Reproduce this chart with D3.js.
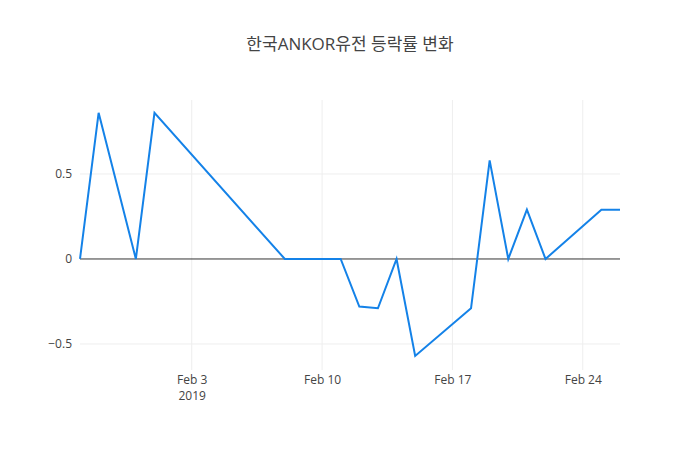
<!DOCTYPE html>
<html>
<head>
<meta charset="utf-8">
<script src="https://cdn.jsdelivr.net/npm/d3@7"></script>
<style>
  body { margin: 0; background: #fff; }
  text { font-family: "Open Sans", "Noto Sans CJK KR", sans-serif; }
</style>
</head>
<body>
<svg id="chart" width="700" height="450"></svg>
<script>
// data
var dates = ["2019-01-28", "2019-01-29", "2019-01-31", "2019-02-01", "2019-02-08",
  "2019-02-11", "2019-02-12", "2019-02-13", "2019-02-14", "2019-02-15", "2019-02-18",
  "2019-02-19", "2019-02-20", "2019-02-21", "2019-02-22", "2019-02-25", "2019-02-26"];
var rates = [0, 0.86, 0, 0.86, 0, 0, -0.28, -0.29, 0, -0.57, -0.29, 0.58, 0, 0.29, 0, 0.29, 0.29];
var yTicks = [-0.5, 0, 0.5];
var xTicks = ["2019-02-03", "2019-02-10", "2019-02-17", "2019-02-24"];

var margin = {top: 100, right: 80, bottom: 80, left: 80};
var width = 700, height = 450;
var parse = d3.utcParse("%Y-%m-%d");

var data = dates.map(function(d, i) { return {date: parse(d), v: rates[i]}; });

var svg = d3.select("#chart");

var xScale = d3.scaleUtc()
  .domain([parse("2019-01-28"), parse("2019-02-26")])
  .range([margin.left, width - margin.right]);

var yScale = d3.scaleLinear()
  .domain([-0.653, 0.935])
  .range([height - margin.bottom, margin.top]);

// gridlines
svg.append("g")
  .selectAll("line")
  .data(xTicks.map(parse))
  .enter()
  .append("line")
  .attr("x1", d => xScale(d)).attr("x2", d => xScale(d))
  .attr("y1", margin.top).attr("y2", height - margin.bottom)
  .attr("stroke", "#eee");

svg.append("g")
  .selectAll("line")
  .data(yTicks.filter(t => t !== 0))
  .enter()
  .append("line")
  .attr("x1", margin.left).attr("x2", width - margin.right)
  .attr("y1", d => yScale(d)).attr("y2", d => yScale(d))
  .attr("stroke", "#eee");

// zero line
svg.append("line")
  .attr("x1", margin.left).attr("x2", width - margin.right)
  .attr("y1", yScale(0)).attr("y2", yScale(0))
  .attr("stroke", "#333").attr("stroke-width", 1);

// axes
var yAxis = d3.axisLeft(yScale).tickValues(yTicks).tickSize(0).tickPadding(8)
  .tickFormat(d => d === 0 ? "0" : d3.format("")(d).replace("-", "\u2212"));
svg.append("g")
  .attr("transform", `translate(${margin.left}, 0)`)
  .call(yAxis)
  .call(g => g.select(".domain").remove())
  .selectAll("text").attr("fill", "#444").attr("font-size", 12);

var fmt = d3.utcFormat("%b %-d");
var xAxis = d3.axisBottom(xScale).tickValues(xTicks.map(parse)).tickSize(0).tickPadding(5)
  .tickFormat(fmt);
var xg = svg.append("g")
  .attr("transform", `translate(0, ${height - margin.bottom})`)
  .call(xAxis);
xg.select(".domain").remove();
xg.selectAll("text").attr("fill", "#444").attr("font-size", 12);
xg.selectAll(".tick").filter((d, i) => i === 0)
  .append("text")
  .attr("y", 30).attr("fill", "#444").attr("font-size", 12)
  .attr("text-anchor", "middle").text("2019");

// line
var line = d3.line()
  .x(d => xScale(d.date))
  .y(d => yScale(d.v));

svg.append("path")
  .datum(data)
  .attr("d", line)
  .attr("fill", "none")
  .attr("stroke", "#1482e8")
  .attr("stroke-width", 2);

// title
svg.append("text")
  .attr("x", width / 2).attr("y", 50)
  .attr("text-anchor", "middle")
  .attr("font-size", 17).attr("fill", "#444")
  .text("한국ANKOR유전 등락률 변화");
</script>
</body>
</html>
